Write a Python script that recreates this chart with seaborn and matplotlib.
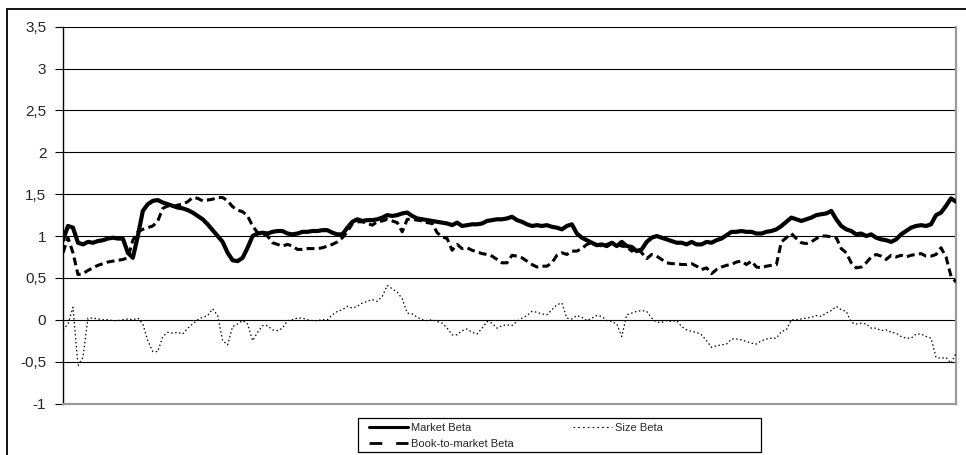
import numpy as np
import pandas as pd
import seaborn as sns
import matplotlib
matplotlib.use("Agg")
import matplotlib.pyplot as plt
from matplotlib.patches import Rectangle
from matplotlib.lines import Line2D

# ---- data (one value every ~5 px) ----
market_beta = [
    0.95, 1.12, 1.1, 0.92, 0.9, 0.93, 0.92, 0.94, 0.95, 0.97, 0.98, 0.97, 0.97, 0.8, 0.74,
    1.0, 1.3, 1.38, 1.42, 1.43, 1.4, 1.38, 1.36, 1.34, 1.33, 1.31, 1.28, 1.24, 1.2, 1.14,
    1.07, 1.0, 0.93, 0.8, 0.71, 0.7, 0.74, 0.86, 1.0, 1.03, 1.04, 1.03, 1.05, 1.06, 1.06,
    1.03, 1.02, 1.03, 1.05, 1.05, 1.06, 1.06, 1.07, 1.07, 1.04, 1.02, 1.02, 1.1, 1.17, 1.2,
    1.18, 1.19, 1.19, 1.2, 1.22, 1.25, 1.24, 1.25, 1.27, 1.28, 1.24, 1.21, 1.2, 1.19, 1.18,
    1.17, 1.16, 1.15, 1.13, 1.16, 1.12, 1.13, 1.14, 1.14, 1.15, 1.18, 1.19, 1.2, 1.2, 1.21,
    1.23, 1.19, 1.17, 1.14, 1.12, 1.13, 1.12, 1.13, 1.11, 1.1, 1.08, 1.12, 1.14, 1.03, 0.98,
    0.95, 0.92, 0.89, 0.9, 0.88, 0.92, 0.88, 0.93, 0.88, 0.87, 0.82, 0.84, 0.93, 0.98, 1.0,
    0.98, 0.96, 0.94, 0.92, 0.92, 0.9, 0.93, 0.9, 0.9, 0.93, 0.92, 0.95, 0.97, 1.01, 1.05,
    1.05, 1.06, 1.05, 1.05, 1.03, 1.03, 1.05, 1.06, 1.08, 1.12, 1.17, 1.22, 1.2, 1.18, 1.2,
    1.22, 1.25, 1.26, 1.27, 1.3, 1.2, 1.12, 1.08, 1.06, 1.02, 1.03, 1.0, 1.02, 0.98, 0.96,
    0.95, 0.93, 0.96, 1.02, 1.06, 1.1, 1.12, 1.13, 1.12, 1.14, 1.25, 1.28, 1.36, 1.45, 1.41,
]
size_beta = [
    -0.12, -0.05, 0.15, -0.55, -0.45, 0.02, 0.02, 0.01, 0.0, 0.0, -0.01, -0.01, 0.0, 0.01, 0.0,
    0.02, -0.05, -0.25, -0.38, -0.38, -0.2, -0.15, -0.16, -0.15, -0.17, -0.1, -0.05, 0.0, 0.03, 0.05,
    0.13, 0.05, -0.25, -0.3, -0.08, -0.05, -0.01, -0.05, -0.25, -0.15, -0.07, -0.07, -0.12, -0.13, -0.1,
    -0.01, 0.0, 0.02, 0.02, 0.0, -0.01, -0.01, 0.0, 0.0, 0.06, 0.1, 0.12, 0.16, 0.14, 0.16,
    0.2, 0.22, 0.24, 0.22, 0.28, 0.41, 0.37, 0.33, 0.25, 0.08, 0.07, 0.03, 0.0, -0.01, 0.0,
    -0.02, -0.04, -0.1, -0.18, -0.18, -0.13, -0.11, -0.15, -0.17, -0.1, -0.02, -0.04, -0.1, -0.07, -0.06,
    -0.07, -0.02, 0.02, 0.05, 0.1, 0.09, 0.07, 0.06, 0.12, 0.18, 0.2, 0.02, 0.01, 0.05, 0.03,
    -0.01, 0.02, 0.05, 0.04, -0.01, -0.02, -0.05, -0.2, 0.06, 0.08, 0.1, 0.11, 0.1, 0.02, -0.03,
    -0.03, -0.01, -0.02, -0.01, -0.08, -0.12, -0.14, -0.15, -0.18, -0.25, -0.33, -0.31, -0.3, -0.29, -0.23,
    -0.23, -0.24, -0.26, -0.28, -0.29, -0.25, -0.23, -0.22, -0.22, -0.14, -0.12, 0.0, 0.0, 0.01, 0.02,
    0.03, 0.05, 0.04, 0.08, 0.11, 0.16, 0.12, 0.1, -0.03, -0.05, -0.04, -0.05, -0.1, -0.1, -0.13,
    -0.12, -0.15, -0.16, -0.2, -0.22, -0.22, -0.17, -0.17, -0.2, -0.22, -0.45, -0.46, -0.45, -0.52, -0.4,
]
btm_beta = [
    0.8, 0.98, 0.8, 0.54, 0.55, 0.59, 0.62, 0.65, 0.67, 0.69, 0.7, 0.71, 0.72, 0.74, 0.95,
    1.05, 1.08, 1.1, 1.12, 1.18, 1.33, 1.36, 1.35, 1.37, 1.38, 1.41, 1.46, 1.45, 1.42, 1.43,
    1.44, 1.46, 1.46, 1.42, 1.35, 1.31, 1.29, 1.24, 1.12, 1.04, 1.02, 1.0, 0.92, 0.9, 0.88,
    0.9, 0.88, 0.84, 0.84, 0.85, 0.85, 0.85, 0.86, 0.88, 0.9, 0.93, 0.98, 1.05, 1.15, 1.17,
    1.17, 1.15, 1.13, 1.17, 1.18, 1.2, 1.18, 1.16, 1.05, 1.2, 1.2, 1.19, 1.18, 1.16, 1.15,
    1.04, 0.99, 0.97, 0.83, 0.9, 0.85, 0.86, 0.83, 0.81, 0.79, 0.78, 0.76, 0.72, 0.68, 0.68,
    0.77, 0.76, 0.74, 0.7, 0.66, 0.63, 0.64, 0.64, 0.68, 0.77, 0.8, 0.78, 0.82, 0.82, 0.85,
    0.9, 0.92, 0.9, 0.88, 0.9, 0.92, 0.9, 0.88, 0.87, 0.82, 0.86, 0.8, 0.73, 0.78, 0.76,
    0.72, 0.68, 0.67, 0.67, 0.66, 0.66, 0.67, 0.64, 0.6, 0.62, 0.55, 0.6, 0.63, 0.65, 0.66,
    0.69, 0.7, 0.66, 0.7, 0.63, 0.62, 0.64, 0.65, 0.66, 0.93, 0.98, 1.03, 0.97, 0.92, 0.91,
    0.93, 0.97, 1.0, 1.0, 0.99, 0.98, 0.85, 0.8, 0.68, 0.62, 0.63, 0.68, 0.75, 0.78, 0.76,
    0.72, 0.77, 0.75, 0.77, 0.75, 0.77, 0.78, 0.79, 0.76, 0.76, 0.78, 0.86, 0.75, 0.52, 0.45,
]
y_ticks = [-1, -0.5, 0, 0.5, 1, 1.5, 2, 2.5, 3, 3.5]
y_tick_labels = ["-1", "-0,5", "0", "0,5", "1", "1,5", "2", "2,5", "3", "3,5"]
series_names = ["Market Beta", "Size Beta", "Book-to-market Beta"]

period = np.arange(len(market_beta))
df = pd.DataFrame({
    "period": period,
    "Market Beta": market_beta,
    "Size Beta": size_beta,
    "Book-to-market Beta": btm_beta,
})

sns.set_style("white")
plt.rcParams["font.family"] = ["Liberation Sans", "DejaVu Sans"]

fig = plt.figure(figsize=(9.66, 4.55), dpi=100)
ax = fig.add_axes([63 / 966, 1 - 403.5 / 455, (956 - 63) / 966, (403.5 - 26.7) / 455])

for yv in y_ticks:
    ax.axhline(yv, color="black", lw=0.8, zorder=1)

styles = {
    "Market Beta": dict(lw=3.0, ls="-"),
    "Size Beta": dict(lw=0.9, ls=(0, (1.2, 2.0))),
    "Book-to-market Beta": dict(lw=2.2, ls=(0, (2.6, 1.4))),
}
for name in ["Size Beta", "Book-to-market Beta", "Market Beta"]:
    st = styles[name]
    sns.lineplot(data=df, x="period", y=name, ax=ax, color="black",
                 linewidth=st["lw"], linestyle=st["ls"], zorder=3)

ax.set_xlim(0, len(market_beta) - 1)
ax.set_ylim(-1, 3.5)
ax.set_xticks([])
ax.set_yticks(y_ticks)
ax.set_yticklabels(y_tick_labels)
ax.tick_params(axis="y", direction="out", length=6, width=0.8, color="black",
               labelsize=11, pad=6, left=True)
ax.set_xlabel("")
ax.set_ylabel("")
ax.spines["left"].set_color("black")
ax.spines["left"].set_linewidth(1.0)
ax.spines["top"].set_visible(False)
ax.spines["right"].set_color("#9a9a9a")
ax.spines["right"].set_linewidth(1.6)
ax.spines["bottom"].set_color("#9a9a9a")
ax.spines["bottom"].set_linewidth(1.6)

# legend
handles = [
    Line2D([], [], color="black", lw=2.2, ls="-"),
    Line2D([], [], color="black", lw=2.0, ls=(0, (4.6, 5.0))),
    Line2D([], [], color="black", lw=0.8, ls=(0, (1.5, 2.8))),
]
labels = ["Market Beta", "Book-to-market Beta", "Size Beta"]
leg = fig.legend(handles, labels, loc="upper left",
                 bbox_to_anchor=(367 / 966, 1 - 421 / 455), ncol=2, frameon=False,
                 fontsize=8, handlelength=3.5, handletextpad=0.27, columnspacing=5.3,
                 labelspacing=0.52, borderpad=0.2, borderaxespad=0)

fig.patches.append(Rectangle((358 / 966, 1 - 452 / 455), 403 / 966, 34 / 455,
                             transform=fig.transFigure, fill=False, edgecolor="black",
                             lw=0.9, zorder=5))
# outer chart border
fig.patches.append(Rectangle((7 / 966, -0.1), 1.2, 1.1 - 9 / 455,
                             transform=fig.transFigure, fill=False, edgecolor="black",
                             lw=1.3, clip_on=False, zorder=5))

fig.savefig("out.png", dpi=100)
